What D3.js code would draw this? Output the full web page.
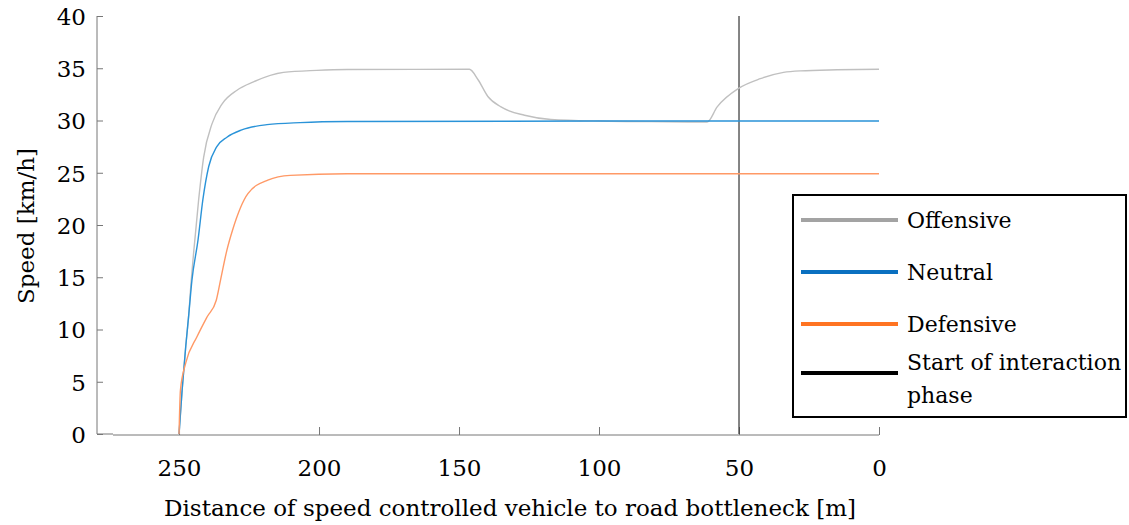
<!DOCTYPE html>
<html>
<head>
<meta charset="utf-8">
<script src="https://cdn.jsdelivr.net/npm/d3@7"></script>
<style>
  body { margin: 0; background: #fff; }
  svg text { font-family: "DejaVu Serif", serif; fill: #000; }
</style>
</head>
<body>
<div id="chart"></div>
<script>
// Speed profiles: [distance to bottleneck in m, speed in km/h]
const offensive = [
    [250, 0], [248.9, 4.2], [247.6, 8.4], [246.5, 11.5], [245.9, 13.8], [244.7, 17.6],
    [243, 22.4], [241.2, 26.5], [238.2, 29.7], [234.6, 31.6], [229.3, 32.9], [223.4, 33.7],
    [212.7, 34.6], [200.8, 34.8], [190, 34.88], [146.3, 34.9],
    [143.2, 33.9], [139.7, 32.3], [135, 31.3], [126.6, 30.5], [117.2, 30.1], [100, 29.95],
    [75, 29.88], [61.4, 29.85], [57.8, 31.3], [50, 33.1], [42.4, 34.0], [34.1, 34.6],
    [28.1, 34.75], [15, 34.85], [0, 34.9]
];
const neutral = [
    [250, 0], [248.9, 4.2], [247.6, 8.4], [246.5, 11.5], [245.4, 14.7], [243.2, 18.6],
    [241.5, 22.4], [239.4, 25.6], [236.5, 27.5], [232.9, 28.4], [227.6, 29.1], [218.6, 29.6],
    [206.8, 29.8], [190, 29.9], [100, 29.95], [0, 29.95]
];
const defensive = [
    [250, 0], [249.5, 4.2], [247.6, 6.8], [243.6, 9.3], [240, 11.2], [236.7, 12.8],
    [235.2, 14.7], [232.9, 17.6], [230.9, 19.5], [225.4, 23.0], [218.3, 24.3], [210.3, 24.75],
    [190, 24.9], [0, 24.9]
];
const interactionStart = 50;

const xTicks = [250, 200, 150, 100, 50, 0];
const yTicks = [0, 5, 10, 15, 20, 25, 30, 35, 40];

const legendLabels = ["Offensive", "Neutral", "Defensive", "Start of interaction"];

const width = 1129;
const height = 525;
const fontSize = "23px";
const legendFontSize = "22px";

const svg = d3.select("#chart")
    .append("svg")
    .attr("width", width)
    .attr("height", height);

// reversed x: far from the bottleneck on the left
const x = d3.scaleLinear().domain([279.3, 0]).range([97, 879]);
const y = d3.scaleLinear().domain([0, 40]).range([434, 16]);

// y axis, ticks pointing inside
const yAxis = svg.append("g")
    .attr("transform", "translate(97,0)")
    .call(d3.axisRight(y).tickValues(yTicks).tickSize(6).tickFormat(d3.format("d")));
yAxis.select(".domain").attr("stroke", "#777").attr("d", "M0,16V434H16");
yAxis.selectAll(".tick line").attr("stroke", "#777");
yAxis.selectAll(".tick text")
    .attr("x", -11)
    .attr("text-anchor", "end")
    .attr("dy", "0.36em");

// x axis, ticks pointing up
const xAxis = svg.append("g")
    .attr("transform", "translate(0,435)")
    .call(d3.axisTop(x).tickValues(xTicks).tickSize(8).tickFormat(d3.format("d")));
xAxis.select(".domain").attr("stroke", "#777").attr("d", "M113,0H879");
xAxis.selectAll(".tick line").attr("stroke", "#777");
xAxis.selectAll(".tick text")
    .attr("y", 41)
    .attr("dy", 0);

svg.selectAll(".tick text")
    .attr("fill", "#000")
    .style("font-size", fontSize);
svg.selectAll("g").attr("font-family", null).attr("font-size", null);

// axis titles
svg.append("text")
    .attr("x", 510)
    .attr("y", 516)
    .attr("text-anchor", "middle")
    .style("font-size", fontSize)
    .text("Distance of speed controlled vehicle to road bottleneck [m]");

svg.append("text")
    .attr("transform", "translate(34,226) rotate(-90)")
    .attr("text-anchor", "middle")
    .style("font-size", fontSize)
    .text("Speed [km/h]");

// vertical marker for the interaction phase
svg.append("line")
    .attr("x1", x(interactionStart))
    .attr("x2", x(interactionStart))
    .attr("y1", y(40))
    .attr("y2", y(0))
    .attr("stroke", "#333")
    .attr("stroke-width", 1.2);

const line = d3.line()
    .x(d => x(d[0]))
    .y(d => y(d[1]))
    .curve(d3.curveMonotoneX);

const series = [
    { data: offensive, color: "#c0c0c0" },
    { data: neutral, color: "#2a93d8" },
    { data: defensive, color: "#ff9966" }
];

svg.selectAll(".series")
    .data(series)
    .enter()
    .append("path")
    .attr("class", "series")
    .attr("fill", "none")
    .attr("stroke", d => d.color)
    .attr("stroke-width", 1.4)
    .attr("d", d => line(d.data));

// legend
const legend = svg.append("g");
legend.append("rect")
    .attr("x", 793)
    .attr("y", 195)
    .attr("width", 333)
    .attr("height", 222)
    .attr("fill", "#fff")
    .attr("stroke", "#000")
    .attr("stroke-width", 2);

const legendItems = [
    { label: legendLabels[0], color: "#a3a3a3", cy: 220 },
    { label: legendLabels[1], color: "#0a70c0", cy: 272 },
    { label: legendLabels[2], color: "#ff7422", cy: 324 },
    { label: legendLabels[3], color: "#000", cy: 373 }
];

legendItems.forEach(item => {
    legend.append("line")
        .attr("x1", 801)
        .attr("x2", 898)
        .attr("y1", item.cy)
        .attr("y2", item.cy)
        .attr("stroke", item.color)
        .attr("stroke-width", 4);
});

legend.selectAll(".label")
    .data(legendItems.slice(0, 3))
    .enter()
    .append("text")
    .attr("x", 907)
    .attr("y", d => d.cy + 8)
    .style("font-size", legendFontSize)
    .text(d => d.label);

legend.append("text")
    .attr("x", 907)
    .attr("y", 370)
    .style("font-size", legendFontSize)
    .text(legendLabels[3]);
legend.append("text")
    .attr("x", 907)
    .attr("y", 403)
    .style("font-size", legendFontSize)
    .text("phase");
</script>
</body>
</html>
